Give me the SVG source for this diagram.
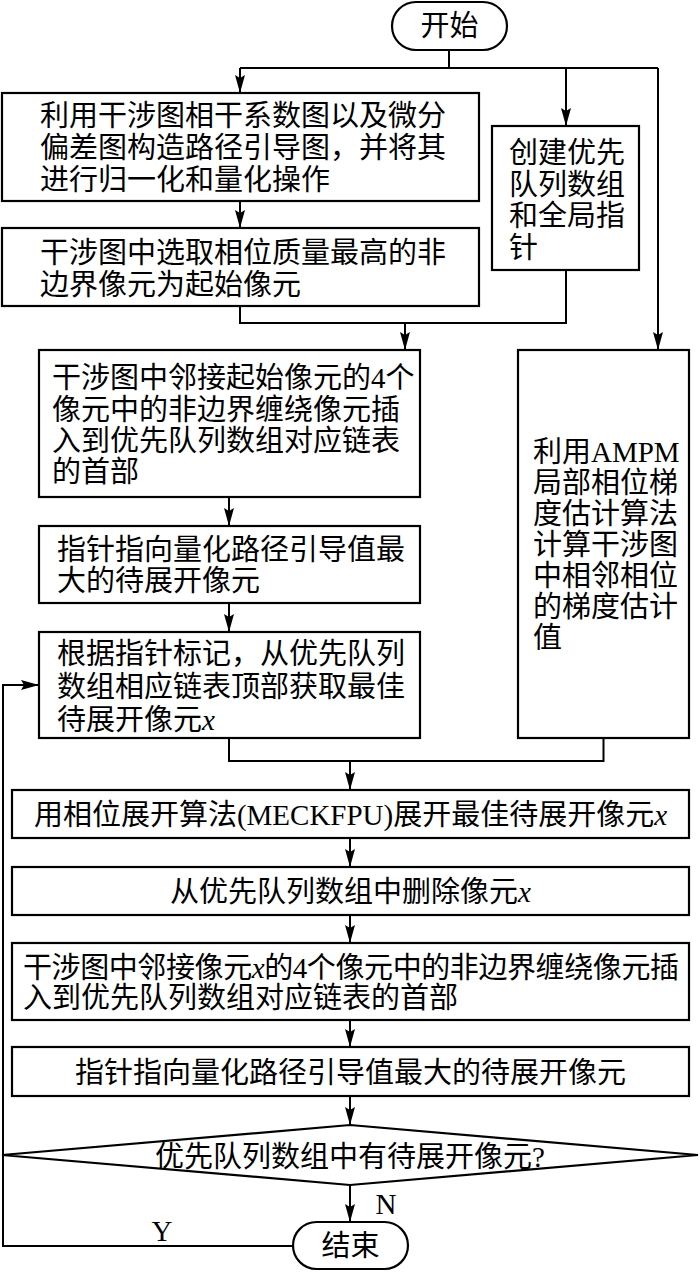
<svg xmlns="http://www.w3.org/2000/svg" width="700" height="1272" viewBox="0 0 700 1272">
<style>
.b{fill:#fff;stroke:#000;stroke-width:2.2}
.c{fill:none;stroke:#000;stroke-width:2}
.t{font-family:"Liberation Serif","Noto Sans CJK SC",serif;font-size:29px;fill:#000}
.m{text-anchor:middle}
.i{font-style:italic}
</style>
<defs>
<marker id="ah" markerWidth="18" markerHeight="10" refX="18" refY="5" orient="auto" markerUnits="userSpaceOnUse"><path d="M0,0 L18,5 L0,10 L3,5 z" fill="#000"/></marker>
</defs>
<rect width="700" height="1272" fill="#fff"/>
<g id="connectors">
<path class="c" d="M449,50 V68"/>
<path class="c" d="M240,68 H658"/>
<path class="c" d="M240,68 V93" marker-end="url(#ah)"/>
<path class="c" d="M566,68 V126" marker-end="url(#ah)"/>
<path class="c" d="M658,68 V350" marker-end="url(#ah)"/>
<path class="c" d="M240,201 V228" marker-end="url(#ah)"/>
<path class="c" d="M240,306 V323 H566 V270"/>
<path class="c" d="M405,323 V350" marker-end="url(#ah)"/>
<path class="c" d="M229,497 V526" marker-end="url(#ah)"/>
<path class="c" d="M229,603 V632" marker-end="url(#ah)"/>
<path class="c" d="M229,738 V761 H603.5 V738"/>
<path class="c" d="M350,761 V790" marker-end="url(#ah)"/>
<path class="c" d="M350,838 V867" marker-end="url(#ah)"/>
<path class="c" d="M350,915 V943" marker-end="url(#ah)"/>
<path class="c" d="M350,1020 V1047" marker-end="url(#ah)"/>
<path class="c" d="M350,1096 V1125" marker-end="url(#ah)"/>
<path class="c" d="M350,1185 V1222" marker-end="url(#ah)"/>
<path class="c" d="M293,1246 H3 V685 H39" marker-end="url(#ah)"/>
<text class="t m" x="386" y="1214">N</text>
<text class="t m" x="162" y="1241">Y</text>
</g>
<g id="start">
<rect class="b" x="392" y="2" width="115" height="48" rx="24"/>
<text class="t m" x="449.5" y="36">开始</text>
</g>
<g id="box1">
<rect class="b" x="2" y="93" width="477" height="108"/>
<text class="t" x="40" y="126">利用干涉图相干系数图以及微分</text>
<text class="t" x="40" y="158">偏差图构造路径引导图，并将其</text>
<text class="t" x="40" y="190">进行归一化和量化操作</text>
</g>
<g id="box-create">
<rect class="b" x="492" y="126" width="147" height="144"/>
<text class="t" x="509" y="163">创建优先</text>
<text class="t" x="509" y="195">队列数组</text>
<text class="t" x="509" y="226">和全局指</text>
<text class="t" x="509" y="258">针</text>
</g>
<g id="box2">
<rect class="b" x="2" y="228" width="477" height="78"/>
<text class="t" x="40" y="263">干涉图中选取相位质量最高的非</text>
<text class="t" x="40" y="295">边界像元为起始像元</text>
</g>
<g id="box3">
<rect class="b" x="39" y="350" width="381" height="147"/>
<text class="t" x="52" y="388">干涉图中邻接起始像元的4个</text>
<text class="t" x="52" y="420">像元中的非边界缠绕像元插</text>
<text class="t" x="52" y="451">入到优先队列数组对应链表</text>
<text class="t" x="52" y="482">的首部</text>
</g>
<g id="box-ampm">
<rect class="b" x="518" y="350" width="171" height="388"/>
<text class="t" x="533" y="462">利用AMPM</text>
<text class="t" x="533" y="493">局部相位梯</text>
<text class="t" x="533" y="524">度估计算法</text>
<text class="t" x="533" y="555">计算干涉图</text>
<text class="t" x="533" y="586">中相邻相位</text>
<text class="t" x="533" y="617">的梯度估计</text>
<text class="t" x="533" y="648">值</text>
</g>
<g id="box4">
<rect class="b" x="39" y="526" width="381" height="77"/>
<text class="t" x="57" y="560">指针指向量化路径引导值最</text>
<text class="t" x="57" y="591">大的待展开像元</text>
</g>
<g id="box5">
<rect class="b" x="39" y="632" width="381" height="106"/>
<text class="t" x="57" y="664">根据指针标记，从优先队列</text>
<text class="t" x="57" y="697">数组相应链表顶部获取最佳</text>
<text class="t" x="57" y="730">待展开像元<tspan class="i">x</tspan></text>
</g>
<g id="box6">
<rect class="b" x="12" y="790" width="677" height="48"/>
<text class="t m" x="350.5" y="825">用相位展开算法(MECKFPU)展开最佳待展开像元<tspan class="i">x</tspan></text>
</g>
<g id="box7">
<rect class="b" x="12" y="867" width="677" height="48"/>
<text class="t m" x="350.5" y="902">从优先队列数组中删除像元<tspan class="i">x</tspan></text>
</g>
<g id="box8">
<rect class="b" x="12" y="943" width="677" height="77"/>
<text class="t" x="23" y="978" textLength="656" lengthAdjust="spacing">干涉图中邻接像元<tspan class="i">x</tspan>的4个像元中的非边界缠绕像元插</text>
<text class="t" x="23" y="1008">入到优先队列数组对应链表的首部</text>
</g>
<g id="box9">
<rect class="b" x="12" y="1047" width="677" height="49"/>
<text class="t m" x="350.5" y="1083">指针指向量化路径引导值最大的待展开像元</text>
</g>
<g id="decision">
<polygon class="b" points="350,1125 698,1155 350,1185 2,1155"/>
<text class="t m" x="350" y="1167">优先队列数组中有待展开像元?</text>
</g>
<g id="end">
<rect class="b" x="293" y="1222" width="115" height="47" rx="23.5"/>
<text class="t m" x="350.5" y="1256">结束</text>
</g>
</svg>
